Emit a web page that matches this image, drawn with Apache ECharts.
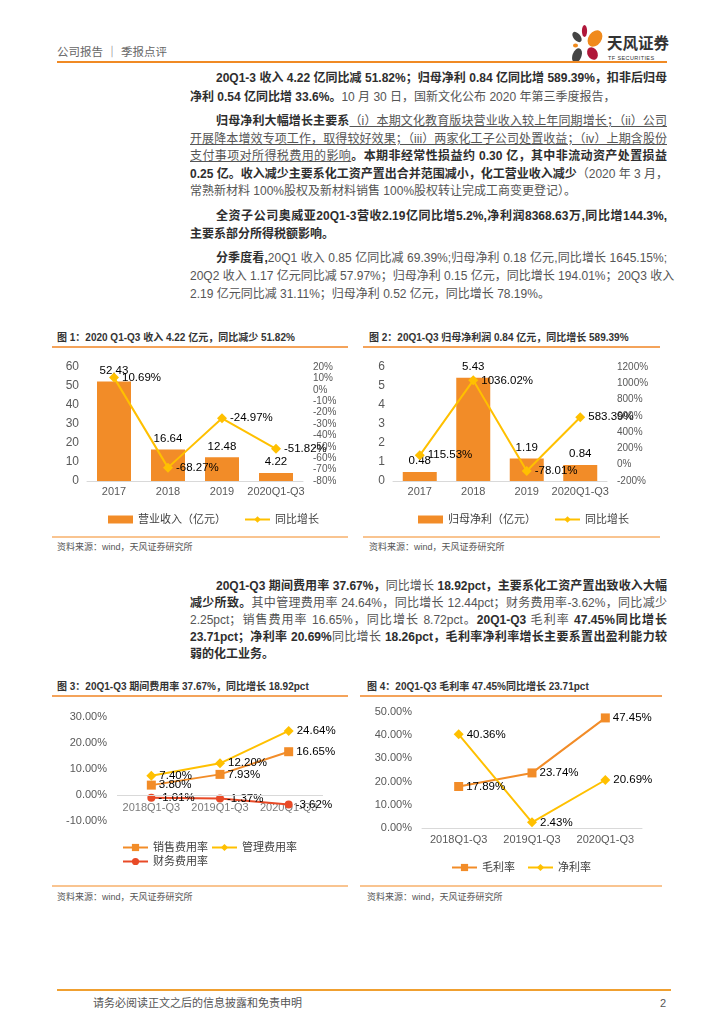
<!DOCTYPE html>
<html><head><meta charset="utf-8">
<script src="https://cdn.jsdelivr.net/npm/echarts@6/dist/echarts.min.js"></script>
<style>
html,body{margin:0;padding:0;background:#fff;}
body{width:724px;height:1024px;position:relative;overflow:hidden;font-family:"Liberation Sans","Noto Sans CJK SC",sans-serif;}
.abs{position:absolute;}
.ln{position:absolute;left:190px;width:477px;height:18px;line-height:18px;font-size:12px;color:#555;white-space:nowrap;text-align:justify;text-align-last:justify;}
.ln.last{text-align-last:left;}
.ln.ind{padding-left:26px;width:451px;}
.b{font-weight:bold;color:#2e2e2e;}
.u{text-decoration:underline;}
.hr{position:absolute;background:#F08A24;}
.ttl{position:absolute;font-size:10px;font-weight:bold;color:#333;white-space:nowrap;line-height:14px;}
.src{position:absolute;font-size:9px;color:#555;white-space:nowrap;line-height:12px;}
.tl{position:absolute;height:1.5px;background:#F4A35A;}
.bl{position:absolute;height:2px;background:#F9C490;}
.chart{position:absolute;}
</style></head>
<body>
<!-- header -->
<div class="abs" style="left:57px;top:44px;font-size:11.5px;color:#666;line-height:16px;white-space:nowrap;">公司报告 ｜ 季报点评</div>
<svg class="abs" style="left:565px;top:18px;" width="105" height="46" viewBox="565 18 105 46">
  <ellipse cx="584.5" cy="31" rx="2.6" ry="6" fill="#B0173A"/>
  <ellipse cx="577" cy="37" rx="3.5" ry="6" fill="#444" transform="rotate(-40 577 37)"/>
  <ellipse cx="595" cy="38.5" rx="6.5" ry="9" fill="#F08A1C" transform="rotate(35 595 38.5)"/>
  <ellipse cx="575.5" cy="45.5" rx="2.5" ry="2" fill="#F08A1C"/>
  <ellipse cx="577" cy="55.5" rx="4.5" ry="7.5" fill="#444" transform="rotate(20 577 55.5)"/>
  <ellipse cx="592.5" cy="53.5" rx="5" ry="6.5" fill="#B0173A" transform="rotate(-30 592.5 53.5)"/>
  <text x="607" y="49" font-size="15.5" font-weight="bold" fill="#333" font-family="Noto Sans CJK SC">天风证券</text>
  <text x="608" y="59.5" font-size="5.5" fill="#333" font-family="Liberation Sans" letter-spacing="0.4">TF SECURITIES</text>
</svg>
<div class="hr" style="left:57px;top:61px;width:610px;height:2px;"></div>

<!-- paragraph 1 -->
<div class="ln ind" style="top:69px;"><span class="b">20Q1-3 收入 4.22 亿同比减 51.82%；归母净利 0.84 亿同比增 589.39%，扣非后归母</span></div>
<div class="ln last" style="top:88px;"><span class="b">净利 0.54 亿同比增 33.6%。</span>10 月 30 日，国新文化公布 2020 年第三季度报告，</div>

<!-- paragraph 2 -->
<div class="ln ind" style="top:112px;"><span class="b">归母净利大幅增长主要系</span><span class="u">（i）本期文化教育版块营业收入较上年同期增长；（ii）公司</span></div>
<div class="ln" style="top:130px;"><span class="u">开展降本增效专项工作，取得较好效果；（iii）两家化工子公司处置收益；（iv）上期含股份</span></div>
<div class="ln" style="top:147px;"><span class="u">支付事项对所得税费用的影响</span><span class="b">。本期非经常性损益约 0.30 亿，其中非流动资产处置损益</span></div>
<div class="ln" style="top:165px;"><span class="b">0.25 亿。收入减少主要系化工资产置出合并范围减小，化工营业收入减少</span>（2020 年 3 月，</div>
<div class="ln last" style="top:182px;">常熟新材料 100%股权及新材料销售 100%股权转让完成工商变更登记）。</div>

<!-- paragraph 3 -->
<div class="ln ind" style="top:207px;"><span class="b">全资子公司奥威亚20Q1-3营收2.19亿同比增5.2%,净利润8368.63万,同比增144.3%,</span></div>
<div class="ln last" style="top:225px;"><span class="b">主要系部分所得税额影响。</span></div>

<!-- paragraph 4 -->
<div class="ln ind" style="top:249px;"><span class="b">分季度看,</span>20Q1 收入 0.85 亿同比减 69.39%;归母净利 0.18 亿元,同比增长 1645.15%;</div>
<div class="ln" style="top:267px;">20Q2 收入 1.17 亿元同比减 57.97%；归母净利 0.15 亿元，同比增长 194.01%；20Q3 收入</div>
<div class="ln last" style="top:285px;">2.19 亿元同比减 31.11%；归母净利 0.52 亿元，同比增长 78.19%。</div>

<!-- chart 1 frame -->
<div class="ttl" style="left:57px;top:331px;">图 1：2020 Q1-Q3 收入 4.22 亿元，同比减少 51.82%</div>
<div class="tl" style="left:52px;top:346px;width:296px;"></div>
<div class="bl" style="left:52px;top:536px;width:296px;"></div>
<div class="src" style="left:57px;top:541px;">资料来源：wind，天风证券研究所</div>
<div id="c1" class="chart" style="left:40px;top:350px;width:310px;height:185px;"></div>

<!-- chart 2 frame -->
<div class="ttl" style="left:369px;top:331px;">图 2：20Q1-Q3 归母净利润 0.84 亿元，同比增长 589.39%</div>
<div class="tl" style="left:363px;top:346px;width:297px;"></div>
<div class="bl" style="left:363px;top:536px;width:297px;"></div>
<div class="src" style="left:369px;top:541px;">资料来源：wind，天风证券研究所</div>
<div id="c2" class="chart" style="left:360px;top:350px;width:320px;height:185px;"></div>

<!-- paragraph 5 -->
<div class="ln ind" style="top:577px;"><span class="b">20Q1-Q3 期间费用率 37.67%，</span>同比增长 <span class="b">18.92pct，主要系化工资产置出致收入大幅</span></div>
<div class="ln" style="top:594px;"><span class="b">减少所致。</span>其中管理费用率 24.64%，同比增长 12.44pct；财务费用率-3.62%，同比减少</div>
<div class="ln" style="top:611px;">2.25pct；销售费用率 16.65%，同比增长 8.72pct。<span class="b">20Q1-Q3</span> 毛利率 <span class="b">47.45%同比增长</span></div>
<div class="ln" style="top:628px;"><span class="b">23.71pct；净利率 20.69%</span>同比增长 <span class="b">18.26pct，毛利率净利率增长主要系置出盈利能力较</span></div>
<div class="ln last" style="top:645px;"><span class="b">弱的化工业务。</span></div>

<!-- chart 3 frame -->
<div class="ttl" style="left:57px;top:680px;">图 3：20Q1-Q3 期间费用率 37.67%，同比增长 18.92pct</div>
<div class="tl" style="left:52px;top:695px;width:296px;"></div>
<div class="bl" style="left:52px;top:885px;width:296px;"></div>
<div class="src" style="left:57px;top:891px;">资料来源：wind，天风证券研究所</div>
<div id="c3" class="chart" style="left:40px;top:700px;width:310px;height:180px;"></div>

<!-- chart 4 frame -->
<div class="ttl" style="left:367px;top:680px;">图 4：20Q1-Q3 毛利率 47.45%同比增长 23.71pct</div>
<div class="tl" style="left:360px;top:695px;width:302px;"></div>
<div class="bl" style="left:360px;top:885px;width:302px;"></div>
<div class="src" style="left:367px;top:891px;">资料来源：wind，天风证券研究所</div>
<div id="c4" class="chart" style="left:360px;top:700px;width:330px;height:180px;"></div>

<!-- footer -->
<div class="hr" style="left:57px;top:989px;width:614px;height:2px;background:#F0A030;"></div>
<div class="abs" style="left:93px;top:995px;font-size:11px;color:#555;line-height:16px;white-space:nowrap;">请务必阅读正文之后的信息披露和免责申明</div>
<div class="abs" style="left:660px;top:995px;font-size:11px;color:#555;line-height:16px;">2</div>

<script>
// ---- data ----
const years = ['2017', '2018', '2019', '2020Q1-Q3'];
const revenue = [52.43, 16.64, 12.48, 4.22];
const revenueYoY = [10.69, -68.27, -24.97, -51.82];
const netProfit = [0.48, 5.43, 1.19, 0.84];
const netProfitYoY = [115.53, 1036.02, -78.01, 583.39];

const periods = ['2018Q1-Q3', '2019Q1-Q3', '2020Q1-Q3'];
const sellingRate = [3.80, 7.93, 16.65];
const adminRate = [7.40, 12.20, 24.64];
const financeRate = [-1.01, -1.37, -3.62];
const grossMargin = [17.89, 23.74, 47.45];
const netMargin = [40.36, 2.43, 20.69];

const rev1Ticks = {min: 0, max: 60, interval: 10};
const yoy1Ticks = {min: -80, max: 20, interval: 10};
const np2Ticks = {min: 0, max: 6, interval: 1};
const yoy2Ticks = {min: -200, max: 1200, interval: 200};
const exp3Ticks = {min: -10, max: 30, interval: 10};
const mar4Ticks = {min: 0, max: 50, interval: 10};

// ---- styles ----
const ORANGE = '#F28C28', YELLOW = '#FFC000', RED = '#E84A27';
const AXC = '#595959';
const FONT = '"Liberation Sans","Noto Sans CJK SC",sans-serif';
const pct2 = p => Number(p.value).toFixed(2) + '%';
const pctInt = v => v + '%';

function catAxis(data, margin, fs) {
  return {type: 'category', data: data,
    axisLine: {onZero: true, lineStyle: {color: '#d9d9d9', width: 1}},
    axisTick: {show: false},
    axisLabel: {interval: 0, color: AXC, fontSize: fs, margin: margin, fontFamily: FONT}};
}
function valAxis(t, fmt, fs, margin) {
  return {type: 'value', min: t.min, max: t.max, interval: t.interval,
    axisLine: {show: false}, axisTick: {show: false}, splitLine: {show: false},
    axisLabel: {color: AXC, fontSize: fs, margin: margin, formatter: fmt, fontFamily: FONT}};
}
function lineSeries(name, data, color, symbol, size, yIdx) {
  return {type: 'line', name: name, data: data, yAxisIndex: yIdx || 0, z: 3,
    symbol: symbol, symbolSize: size,
    lineStyle: {color: color, width: 2}, itemStyle: {color: color},
    label: {show: true, position: 'right', distance: 3, color: '#000', fontSize: 11.5, fontFamily: FONT, formatter: pct2}};
}
const legendText = {color: '#404040', fontSize: 11, fontFamily: FONT};

// ---- chart 1 ----
echarts.init(document.getElementById('c1')).setOption({
  animation: false,
  grid: {left: 47, top: 17, width: 216, height: 114},
  legend: {left: 63, top: 159, itemWidth: 25, itemHeight: 8, itemGap: 18, textStyle: legendText,
    data: [{name: '营业收入（亿元）', icon: 'rect'}, '同比增长']},
  xAxis: catAxis(years, 5, 11),
  yAxis: [valAxis(rev1Ticks, '{value}', 12, 8), valAxis(yoy1Ticks, pctInt, 10, 10)],
  series: [
    {type: 'bar', name: '营业收入（亿元）', data: revenue, barWidth: 34, itemStyle: {color: ORANGE},
      label: {show: true, position: 'top', color: '#000', fontSize: 11.5, fontFamily: FONT}},
    lineSeries('同比增长', revenueYoY, YELLOW, 'diamond', 10, 1)
  ]
});

// ---- chart 2 ----
echarts.init(document.getElementById('c2')).setOption({
  animation: false,
  grid: {left: 33, top: 17, width: 214, height: 114},
  legend: {left: 53, top: 159, itemWidth: 25, itemHeight: 8, itemGap: 18, textStyle: legendText,
    data: [{name: '归母净利（亿元）', icon: 'rect'}, '同比增长']},
  xAxis: catAxis(years, 5, 11),
  yAxis: [valAxis(np2Ticks, '{value}', 12, 8), valAxis(yoy2Ticks, pctInt, 10, 10)],
  series: [
    {type: 'bar', name: '归母净利（亿元）', data: netProfit, barWidth: 34, itemStyle: {color: ORANGE},
      label: {show: true, position: 'top', color: '#000', fontSize: 11.5, fontFamily: FONT}},
    lineSeries('同比增长', netProfitYoY, YELLOW, 'diamond', 10, 1)
  ]
});

// ---- chart 3 (category labels sit just under the zero line) ----
const c3x = catAxis(periods, 5, 11);
c3x.axisLine.show = false;
c3x.axisLabel.show = false;
echarts.init(document.getElementById('c3')).setOption({
  animation: false,
  grid: {left: 77, top: 17, width: 206, height: 104},
  legend: {left: 77, top: 137, width: 175, itemWidth: 25, itemHeight: 9, itemGap: 3, textStyle: legendText,
    data: ['销售费用率', '管理费用率', '财务费用率']},
  xAxis: c3x,
  yAxis: valAxis(exp3Ticks, v => v.toFixed(2) + '%', 11, 10),
  series: [
    {type: 'scatter', name: 'zeroAxis', silent: true, z: 1, symbolSize: 0,
      data: periods.map(p => [p, 0]),
      label: {show: true, position: 'bottom', distance: 7, color: AXC, fontSize: 11, fontFamily: FONT,
        formatter: p => p.value[0]},
      markLine: {silent: true, symbol: 'none', label: {show: false},
        lineStyle: {color: '#d9d9d9', type: 'solid', width: 1}, data: [{yAxis: 0}]}},
    lineSeries('销售费用率', sellingRate, ORANGE, 'rect', 9),
    lineSeries('管理费用率', adminRate, YELLOW, 'diamond', 10),
    lineSeries('财务费用率', financeRate, RED, 'circle', 8)
  ]
});

// ---- chart 4 ----
echarts.init(document.getElementById('c4')).setOption({
  animation: false,
  grid: {left: 62, top: 12, width: 220, height: 116},
  legend: {left: 86, top: 157, itemWidth: 25, itemHeight: 9, itemGap: 12, textStyle: legendText,
    data: ['毛利率', '净利率']},
  xAxis: catAxis(periods, 6, 11),
  yAxis: valAxis(mar4Ticks, v => v.toFixed(2) + '%', 11, 10),
  series: [
    lineSeries('毛利率', grossMargin, ORANGE, 'rect', 9),
    lineSeries('净利率', netMargin, YELLOW, 'diamond', 10)
  ]
});
</script>
</body></html>
